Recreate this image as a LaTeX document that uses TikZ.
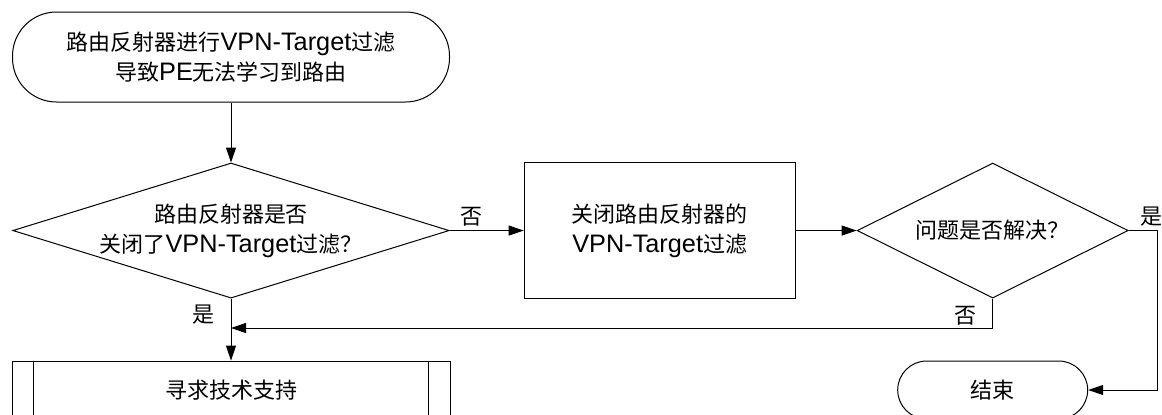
\documentclass[tikz,border=0pt]{standalone}
\usepackage{fontspec}
\setmainfont{Liberation Sans}[Scale=1.15]
\newfontfamily\cjk{Noto Sans CJK SC}
\newcommand{\zh}[1]{{\cjk #1}}
\usetikzlibrary{arrows.meta,positioning,shapes.geometric}

\begin{document}
\begin{tikzpicture}[x=1pt, y=-1pt,
  every node/.style={font=\fontsize{22}{30}\selectfont},
  term/.style={draw, line width=1pt, align=center, inner sep=0pt},
  proc/.style={draw, line width=1pt, align=center, inner sep=0pt},
  decide/.style={draw, diamond, line width=1pt, align=center, inner sep=0pt,
                 minimum width=271pt, minimum height=135pt, aspect=2},
  arr/.style={-{Triangle[length=15pt,width=10pt]}, line width=1pt}]
  \useasboundingbox (0,0) rectangle (1162,415);
  \node[term, rounded corners=44pt, minimum width=437pt, minimum height=90pt] (start) at (231,57)
    {\zh{路由反射器进行}VPN-Target\zh{过滤}\\\zh{导致}PE\zh{无法学习到路由}};
  \node[decide, minimum width=436pt, aspect=3.23, below=60pt of start] (d1)
    {\zh{路由反射器是否}\\\zh{关闭了}VPN-Target\zh{过滤？}};
  \node[proc, minimum width=271pt, minimum height=136pt, right=74pt of d1] (off)
    {\zh{关闭路由反射器的}\\VPN-Target\zh{过滤}};
  \node[decide, right=61pt of off] (d2) {\zh{问题是否解决？}};
  \node[proc, minimum width=438pt, minimum height=58pt, below=62pt of d1] (sup) {\zh{寻求技术支持}};
  \draw[line width=1pt] ([xshift=22pt]sup.north west) -- ([xshift=22pt]sup.south west)
    ([xshift=-22pt]sup.north east) -- ([xshift=-22pt]sup.south east);
  \node[term, rounded corners=29pt, minimum width=190pt, minimum height=58pt] (end) at (d2 |- 0,390) {\zh{结束}};
  \coordinate (merge) at (d1.south |- 0,328);
  \draw[arr] (start) -- (d1);
  \draw[arr] (d1) -- node[pos=.3, above] {\zh{否}} (off);
  \draw[arr] (off) -- (d2);
  \draw[arr] (d2.east) -- node[pos=.8, above] {\zh{是}} ++(29,0) |- (end.east);
  \draw[arr] (d2.south) |- node[pos=.29, left=12pt] {\zh{否}} (merge);
  \draw[arr] (d1.south) -- node[pos=.26, left=12pt] {\zh{是}} (sup.north);
\end{tikzpicture}
\end{document}
